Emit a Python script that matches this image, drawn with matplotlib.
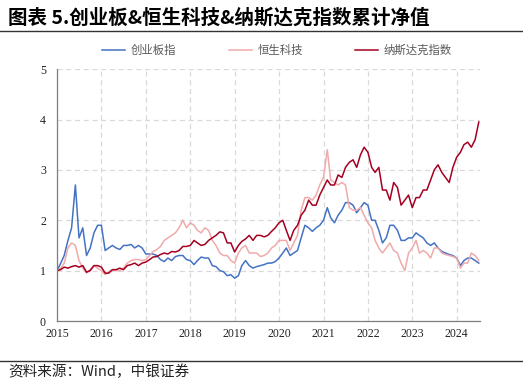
import matplotlib
matplotlib.use("Agg")
import matplotlib.pyplot as plt
import pandas as pd
import numpy as np

plt.rcParams['font.family'] = ['Noto Sans CJK SC', 'DejaVu Sans']

dates = pd.date_range("2015-01-01", "2024-07-01", freq="MS")

chinext = [
    1.00, 1.15, 1.30, 1.60, 1.85, 2.70, 1.65, 1.85, 1.30, 1.45, 1.75, 1.90,
    1.90, 1.40, 1.45, 1.50, 1.45, 1.42, 1.50, 1.50, 1.52, 1.45, 1.50, 1.45,
    1.33, 1.33, 1.33, 1.30, 1.22, 1.18, 1.25, 1.20, 1.28, 1.30, 1.30, 1.22,
    1.20, 1.12, 1.20, 1.27, 1.25, 1.25, 1.10, 1.08, 1.00, 0.98, 0.90, 0.92,
    0.85, 0.90, 1.10, 1.20, 1.10, 1.05, 1.08, 1.10, 1.12, 1.15, 1.15, 1.18,
    1.25, 1.35, 1.45, 1.30, 1.35, 1.40, 1.65, 1.90, 1.85, 1.78, 1.85, 1.90,
    2.00, 2.25, 2.05, 1.95, 2.10, 2.20, 2.35, 2.35, 2.30, 2.15, 2.25, 2.35,
    2.30, 2.00, 2.00, 1.80, 1.55, 1.65, 1.90, 1.90, 1.80, 1.60, 1.60, 1.65,
    1.65, 1.75, 1.70, 1.65, 1.55, 1.50, 1.55, 1.45, 1.38, 1.35, 1.32, 1.30,
    1.25, 1.10, 1.20, 1.25, 1.25, 1.20, 1.15,
]
hstech = [
    1.00, 1.05, 1.15, 1.45, 1.55, 1.50, 1.20, 1.05, 0.95, 1.02, 1.10, 1.05,
    1.00, 0.92, 0.98, 1.02, 1.00, 1.00, 1.05, 1.15, 1.20, 1.22, 1.22, 1.20,
    1.22, 1.30, 1.38, 1.42, 1.48, 1.60, 1.65, 1.70, 1.75, 1.85, 2.00, 1.85,
    1.95, 1.90, 1.80, 1.75, 1.85, 1.80, 1.60, 1.50, 1.35, 1.30, 1.30, 1.20,
    1.15, 1.35, 1.45, 1.50, 1.35, 1.35, 1.35, 1.28, 1.30, 1.35, 1.45, 1.50,
    1.60, 1.60, 1.60, 1.40, 1.55, 1.70, 2.20, 2.45, 2.45, 2.40, 2.50, 2.70,
    2.85, 3.40, 2.80, 2.75, 2.70, 2.75, 2.70, 2.25, 2.20, 2.20, 2.25, 2.10,
    1.95, 1.85, 1.60, 1.45, 1.35, 1.45, 1.55, 1.40, 1.35, 1.15, 1.00, 1.35,
    1.45, 1.60, 1.35, 1.40, 1.35, 1.25, 1.45, 1.45, 1.35, 1.32, 1.30, 1.28,
    1.25, 1.05, 1.15, 1.15, 1.35, 1.30, 1.20,
]
nasdaq = [
    1.00, 1.02, 1.07, 1.05, 1.08, 1.10, 1.07, 1.10, 0.97, 1.00, 1.10, 1.10,
    1.07, 0.95, 0.95, 1.02, 1.02, 1.05, 1.02, 1.10, 1.12, 1.15, 1.10, 1.15,
    1.17, 1.22, 1.27, 1.28, 1.32, 1.35, 1.33, 1.38, 1.37, 1.40, 1.48, 1.48,
    1.50, 1.60, 1.55, 1.50, 1.52, 1.60, 1.65, 1.70, 1.77, 1.75, 1.55, 1.55,
    1.37, 1.50, 1.58, 1.63, 1.70, 1.60, 1.70, 1.70, 1.67, 1.70, 1.78, 1.85,
    1.95, 2.00, 1.80, 1.60, 1.80, 1.90, 2.10, 2.20, 2.40, 2.30, 2.30, 2.50,
    2.65, 2.80, 2.70, 2.70, 2.90, 2.85, 3.05, 3.15, 3.20, 3.05, 3.30, 3.45,
    3.35, 3.05, 2.95, 3.05, 2.60, 2.60, 2.40, 2.75, 2.65, 2.30, 2.40, 2.50,
    2.25, 2.45, 2.45, 2.60, 2.60, 2.80, 3.00, 3.10, 2.95, 2.85, 2.75, 3.05,
    3.25, 3.35, 3.50, 3.55, 3.45, 3.60, 3.95,
]

series_names = ["创业板指", "恒生科技", "纳斯达克指数"]
colors = ["#4472C4", "#F0AAAA", "#A50021"]
year_ticks = list(range(2015, 2025))

fig = plt.figure(figsize=(5.23, 3.84), dpi=100)
ax = fig.add_axes([0.109, 0.164, 0.809, 0.656])

for vals, name, c in zip([chinext, hstech, nasdaq], series_names, colors):
    ax.plot(dates, vals, color=c, lw=1.1, label=name)

ax.set_ylim(0, 5)
ax.set_yticks([0, 1, 2, 3, 4, 5])
ax.set_xlim(pd.Timestamp("2015-01-01"), pd.Timestamp("2024-07-12"))
ax.set_xticks([pd.Timestamp(f"{y}-01-01") for y in year_ticks])
ax.set_xticklabels([str(y) for y in year_ticks])

for lab in ax.get_xticklabels() + ax.get_yticklabels():
    lab.set_fontfamily("Liberation Serif")
    lab.set_fontsize(8.5)
    lab.set_color("#222222")

ax.grid(True, ls=(0, (4, 3)), color="#d9d9d9", lw=0.9)
ax.set_axisbelow(True)
for s in ["top", "right"]:
    ax.spines[s].set_visible(False)
for s in ["left", "bottom"]:
    ax.spines[s].set_color("#7f7f7f")
    ax.spines[s].set_linewidth(0.9)
ax.tick_params(axis="y", length=0, pad=8)
ax.tick_params(axis="x", length=0, pad=5)

fig.legend(loc="center", bbox_to_anchor=(0.53, 0.87), ncol=3, frameon=False,
           fontsize=8.2, handlelength=2.0, handletextpad=0.5, columnspacing=4.6,
           labelcolor="#595959")

fig.text(0.015, 0.955, "图表 5.创业板&恒生科技&纳斯达克指数累计净值",
         fontsize=14, fontweight="bold", va="center", ha="left")
fig.add_artist(plt.Line2D([0, 1], [1 - 31 / 384, 1 - 31 / 384], color="#333333", lw=1))
fig.add_artist(plt.Line2D([0, 1], [1 - 361 / 384, 1 - 361 / 384], color="#333333", lw=1))
fig.text(0.015, 1 - 372 / 384, "资料来源：Wind，中银证券", fontsize=10.5,
         va="center", ha="left", color="#222222")

fig.savefig("out.png", dpi=100)
